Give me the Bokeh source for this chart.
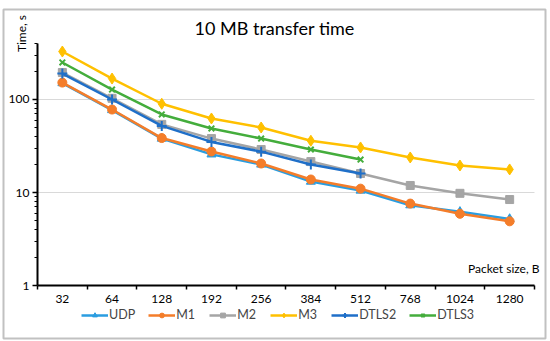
import math
from bokeh.plotting import figure
from bokeh.models import FixedTicker, Legend, LegendItem, Label, BoxAnnotation
from bokeh.embed import file_html
from bokeh.resources import INLINE

sizes = ["32", "64", "128", "192", "256", "384", "512", "768", "1024", "1280"]
udp = [150, 77, 38, 25.7, 20, 13.1, 10.5, 7.3, 6.2, 5.2]
m1 = [152, 78, 38.5, 27.6, 20.5, 13.8, 11.0, 7.6, 5.9, 4.9]
m2 = [195, 103, 54, 38, 29, 21.5, 16, 11.9, 9.8, 8.4]
m3 = [328, 168, 90, 62.5, 50, 36, 30.5, 23.8, 19.5, 17.7]
dtls2 = [190, 100, 52, 35, 27.5, 20, 16]
dtls3 = [250, 128, 69, 48.8, 38, 29, 22.6]
y_major = [1, 10, 100]
y_minor = [2, 3, 4, 5, 6, 7, 8, 9, 20, 30, 40, 50, 60, 70, 80, 90, 200, 300, 400]
y_max = 400

FONT = "Lato"
n = len(sizes)
xs = list(range(n))
x_lo, x_hi = -0.5, n - 0.5

# frame fills the whole canvas; axes are pinned inside it
p = figure(width=550, height=341, y_axis_type="log",
           x_range=(-1.2445, 9.822), y_range=(0.25, 1160),
           output_backend="svg", toolbar_location=None,
           min_border=0, min_border_left=0, min_border_right=0,
           min_border_top=0, min_border_bottom=0)
p.outline_line_color = None
p.xgrid.visible = False
p.ygrid.visible = False

# horizontal gridlines over the category span
p.segment(x0=[x_lo] * (len(y_major) - 1), x1=[x_hi] * (len(y_major) - 1),
          y0=y_major[1:], y1=y_major[1:], line_color="#d9d9d9", line_width=1)

xa = p.xaxis[0]
xa.fixed_location = y_major[0]
xa.bounds = (x_lo, x_hi)
xa.ticker = FixedTicker(ticks=xs, minor_ticks=[i - 0.5 for i in range(n + 1)])
xa.major_label_overrides = {i: s for i, s in enumerate(sizes)}
xa.major_tick_line_color = None
xa.major_tick_out = 4
xa.major_tick_in = 0
xa.minor_tick_out = 4
xa.minor_tick_in = 0
xa.minor_tick_line_width = 1.5
xa.minor_tick_line_color = "black"
xa.axis_line_width = 2
xa.axis_line_color = "black"
xa.major_label_standoff = 5
xa.major_label_text_font = FONT
xa.major_label_text_font_size = "12px"
xa.major_label_text_color = "black"

ya = p.yaxis[0]
ya.fixed_location = x_lo
ya.bounds = (y_major[0], y_max)
ya.ticker = FixedTicker(ticks=y_major, minor_ticks=y_minor)
ya.major_tick_out = 5
ya.major_tick_in = 0
ya.minor_tick_out = 3
ya.minor_tick_in = 0
ya.major_tick_line_width = 1.5
ya.minor_tick_line_width = 1.2
ya.major_tick_line_color = "black"
ya.minor_tick_line_color = "black"
ya.axis_line_width = 2
ya.axis_line_color = "black"
ya.major_label_standoff = 3
ya.major_label_text_font = FONT
ya.major_label_text_font_size = "12px"
ya.major_label_text_color = "black"
ya.major_label_overrides = {1: "1", 10: "10", 100: "100"}

series = [
    ("UDP", udp, "#2a9de0", "triangle", 9),
    ("M1", m1, "#f47d2a", "circle", 9),
    ("M2", m2, "#a5a5a5", "square", 8),
    ("M3", m3, "#ffc000", "diamond", 11),
    ("DTLS2", dtls2, "#1f6fc8", "cross", 10),
    ("DTLS3", dtls3, "#44ad3c", "x", 8),
]

items = []
for name, vals, color, marker, size in series:
    xx = xs[:len(vals)]
    l = p.line(xx, vals, line_color=color, line_width=2.5)
    s = p.scatter(xx, vals, marker=marker, size=size, fill_color=color,
                  line_color=color, line_width=2 if marker in ("cross", "x") else 1)
    items.append(LegendItem(label=name, renderers=[l, s]))

legend = Legend(items=items, orientation="horizontal", location=(81, 19),
                border_line_color=None, background_fill_alpha=0,
                label_text_font=FONT, label_text_font_size="12.5px",
                glyph_width=27, glyph_height=12, spacing=13, padding=0, margin=0,
                label_standoff=1, label_height=12)
p.add_layout(legend)

p.add_layout(Label(x=4.27, y=594, text="10 MB transfer time",
                   text_align="center", text_baseline="middle", text_font=FONT,
                   text_font_size="18px", text_color="black"))
p.add_layout(Label(x=-0.82, y=512, text="Time, s", angle=math.pi / 2,
                   text_align="center", text_baseline="middle", text_font=FONT,
                   text_font_size="12px", text_color="black"))
p.add_layout(Label(x=9.6, y=1.52, text="Packet size, B", text_align="right",
                   text_baseline="middle", text_font=FONT, text_font_size="12px",
                   text_color="black"))

p.add_layout(BoxAnnotation(left=3, right=545, top=3, bottom=332,
                           left_units="screen", right_units="screen",
                           top_units="screen", bottom_units="screen",
                           fill_alpha=0, line_color="#333333", line_width=2))

open("out.html", "w").write(file_html(p, INLINE))
